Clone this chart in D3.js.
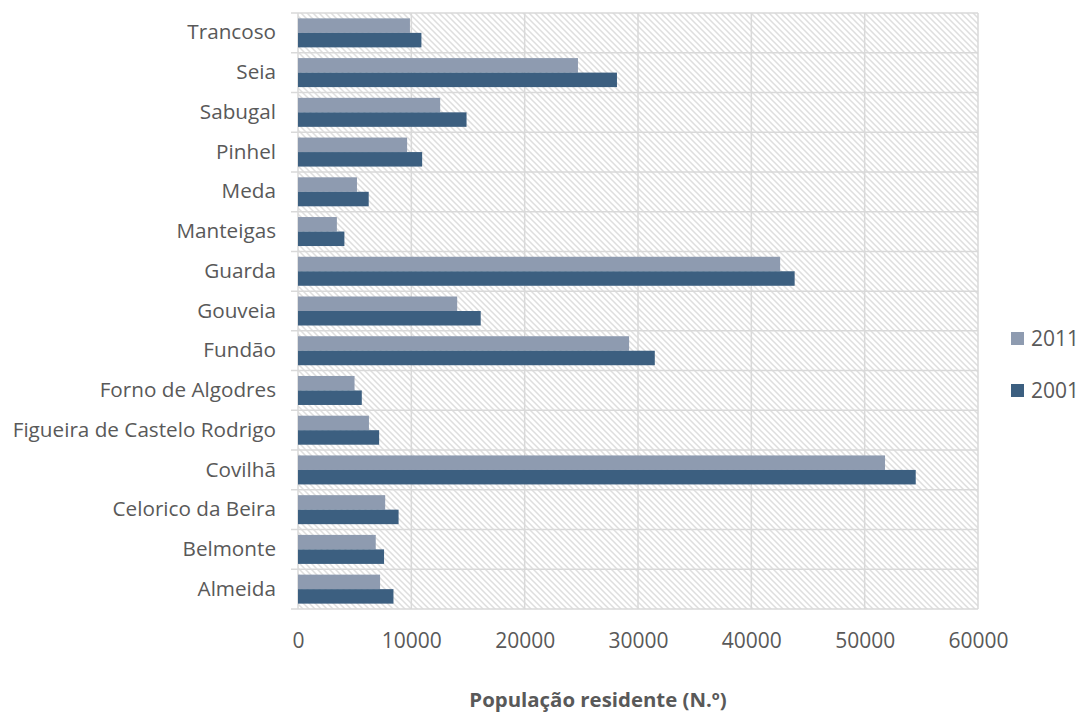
<!DOCTYPE html>
<html>
<head>
<meta charset="utf-8">
<script src="https://cdn.jsdelivr.net/npm/d3@7"></script>
<style>
  html, body { margin: 0; padding: 0; background: #ffffff; }
  svg { display: block; }
  text { font-family: "Open Sans", "Noto Sans", sans-serif; fill: #595959; }
</style>
</head>
<body>
<svg id="chart" width="1082" height="714"></svg>
<script>
// Municípios do distrito da Guarda — população residente
const municipios = [
  "Almeida", "Belmonte", "Celorico da Beira", "Covilhã",
  "Figueira de Castelo Rodrigo", "Forno de Algodres", "Fundão",
  "Gouveia", "Guarda", "Manteigas", "Meda", "Pinhel", "Sabugal",
  "Seia", "Trancoso"
];
const pop2011 = [7242, 6859, 7693, 51797, 6260, 4989, 29213, 14046, 42541, 3430, 5202, 9627, 12544, 24702, 9878];
const pop2001 = [8423, 7592, 8875, 54505, 7158, 5629, 31482, 16122, 43822, 4094, 6239, 10954, 14871, 28144, 10889];
const seriesNames = ["2011", "2001"];
const seriesColors = ["#8e9bb0", "#3c5f80"];
const xTicks = [0, 10000, 20000, 30000, 40000, 50000, 60000];
const axisTitle = "População residente (N.º)";

const rows = municipios.map((m, i) => ({ name: m, values: [pop2011[i], pop2001[i]] }));

const svg = d3.select("#chart");
const plot = { left: 298, right: 978, top: 13, bottom: 609 };

const x = d3.scaleLinear().domain([0, 60000]).range([plot.left, plot.right]);
const y = d3.scaleBand()
  .domain(municipios.slice().reverse())
  .range([plot.top, plot.bottom])
  .paddingInner(0).paddingOuter(0);
const bw = y.bandwidth();
const pad = bw * 0.135;
const ySeries = d3.scaleBand().domain(seriesNames).range([pad, bw - pad]).padding(0);

// diagonal hatch fill for the plot area
const defs = svg.append("defs");
const pat = defs.append("pattern")
  .attr("id", "hatch")
  .attr("patternUnits", "userSpaceOnUse")
  .attr("width", 6).attr("height", 6);
pat.append("rect").attr("width", 6).attr("height", 6).attr("fill", "#ffffff");
pat.append("path")
  .attr("d", "M0,0L6,6M-1,5L1,7M5,-1L7,1")
  .attr("stroke", "#dedede").attr("stroke-width", 1.5);

svg.append("rect")
  .attr("x", plot.left).attr("y", plot.top)
  .attr("width", plot.right - plot.left).attr("height", plot.bottom - plot.top)
  .attr("fill", "url(#hatch)");

// vertical gridlines
svg.append("g").selectAll("line").data(xTicks).join("line")
  .attr("x1", d => x(d)).attr("x2", d => x(d))
  .attr("y1", plot.top).attr("y2", plot.bottom)
  .attr("stroke", "#d9d9d9").attr("stroke-width", 1.5);

// horizontal category boundaries (with tick stubs to the left)
const bounds = y.domain().map(d => y(d)).concat([plot.bottom]);
svg.append("g").selectAll("line").data(bounds).join("line")
  .attr("x1", plot.left - 7).attr("x2", plot.right)
  .attr("y1", d => d).attr("y2", d => d)
  .attr("stroke", "#d9d9d9").attr("stroke-width", 1.5);

// bars
const groups = svg.append("g").selectAll("g").data(rows).join("g")
  .attr("transform", d => `translate(0,${y(d.name)})`);
groups.selectAll("rect")
  .data(d => d.values.map((v, i) => ({ key: seriesNames[i], value: v, i })))
  .join("rect")
  .attr("x", x(0))
  .attr("y", d => ySeries(d.key))
  .attr("width", d => x(d.value) - x(0))
  .attr("height", ySeries.bandwidth())
  .attr("fill", d => seriesColors[d.i]);

// category axis labels
const yAxis = d3.axisLeft(y).tickSize(0).tickPadding(22);
const gy = svg.append("g").attr("transform", `translate(${plot.left},0)`).call(yAxis);
gy.select(".domain").remove();
gy.selectAll("text").attr("font-size", 20.7).style("fill", "#595959")
  .attr("font-family", "Open Sans");

// value axis
const xAxis = d3.axisBottom(x).tickValues(xTicks).tickFormat(d3.format("d")).tickSize(0).tickPadding(24);
const gx = svg.append("g").attr("transform", `translate(0,${plot.bottom})`).call(xAxis);
gx.select(".domain").remove();
gx.selectAll("text").attr("font-size", 21).style("fill", "#595959")
  .attr("font-family", "Open Sans");

// axis title
svg.append("text")
  .attr("x", 598).attr("y", 707)
  .attr("text-anchor", "middle")
  .attr("font-size", 20.4).attr("font-weight", "bold")
  .text(axisTitle);

// legend
const legend = svg.append("g").selectAll("g").data(seriesNames).join("g")
  .attr("transform", (d, i) => `translate(1011,${332 + i * 52})`);
legend.append("rect").attr("width", 13).attr("height", 13)
  .attr("fill", (d, i) => seriesColors[i]);
legend.append("text").attr("x", 20).attr("y", 14)
  .attr("font-size", 21).text(d => d);
</script>
</body>
</html>
